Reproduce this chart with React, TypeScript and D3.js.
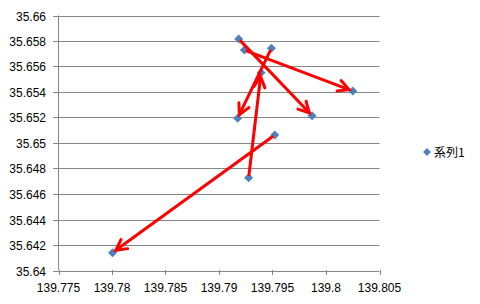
import React from "react";
import * as d3 from "d3";

const lngValues = [139.79184, 139.79237, 139.7949, 139.79393, 139.8025, 139.79174, 139.7987, 139.79521, 139.79277, 139.78005];
const latValues = [35.65816, 35.65729, 35.65743, 35.65551, 35.65408, 35.65194, 35.65214, 35.65063, 35.64728, 35.6414];
const arrowFrom = [0, 1, 2, 8, 7];
const arrowTo = [6, 4, 5, 3, 9];
const xTicks = [139.775, 139.78, 139.785, 139.79, 139.795, 139.8, 139.805];
const yTicks = [35.64, 35.642, 35.644, 35.646, 35.648, 35.65, 35.652, 35.654, 35.656, 35.658, 35.66];
const seriesName = "系列1";

export default function App() {
  const W = 480, H = 304;
  const x = d3.scaleLinear().domain([139.775, 139.805]).range([58.5, 379.5]);
  const y = d3.scaleLinear().domain([35.64, 35.66]).range([270.5, 15.5]);
  const font = "'Liberation Sans', Arial, sans-serif";
  const gridColor = "#868686";
  const blue = "#4F81BD";
  const diamond = (cx: number, cy: number, r: number) =>
    `M${cx},${cy - r}L${cx + r},${cy}L${cx},${cy + r}L${cx - r},${cy}Z`;

  const arrows = arrowFrom.map((f, i) => {
    const t = arrowTo[i];
    const x1 = x(lngValues[f]), y1 = y(latValues[f]);
    const x2 = x(lngValues[t]), y2 = y(latValues[t]);
    const dx = x2 - x1, dy = y2 - y1;
    const len = Math.hypot(dx, dy);
    const ux = dx / len, uy = dy / len;
    const sx = x1 + ux * 3, sy = y1 + uy * 3;
    const ex = x2 - ux * 4, ey = y2 - uy * 4;
    const ang = Math.atan2(uy, ux);
    const hl = 12, ha = (28 * Math.PI) / 180;
    const h1x = ex - hl * Math.cos(ang - ha), h1y = ey - hl * Math.sin(ang - ha);
    const h2x = ex - hl * Math.cos(ang + ha), h2y = ey - hl * Math.sin(ang + ha);
    return { sx, sy, ex, ey, h1x, h1y, h2x, h2y };
  });

  return (
    <svg width={W} height={H} style={{ position: "absolute", left: 0, top: 0, background: "#fff" }}>
      {yTicks.map((v) => (
        <g key={"y" + v}>
          <line x1={x(139.775)} x2={x(139.805)} y1={Math.round(y(v)) + 0.5} y2={Math.round(y(v)) + 0.5} stroke={gridColor} strokeWidth={1} />
          <line x1={53} x2={x(139.775)} y1={Math.round(y(v)) + 0.5} y2={Math.round(y(v)) + 0.5} stroke={gridColor} strokeWidth={1} />
          <text x={46} y={Math.round(y(v)) + 4.5} textAnchor="end" fontFamily={font} fontSize={12} fill="#000">
            {String(+v.toFixed(3))}
          </text>
        </g>
      ))}
      <line x1={58.5} x2={58.5} y1={y(35.66)} y2={y(35.64)} stroke={gridColor} strokeWidth={1} />
      {xTicks.map((v) => (
        <g key={"x" + v}>
          <line x1={Math.round(x(v)) + 0.5} x2={Math.round(x(v)) + 0.5} y1={270} y2={275} stroke={gridColor} strokeWidth={1} />
          <text x={x(v)} y={292} textAnchor="middle" fontFamily={font} fontSize={12} fill="#000">
            {String(+v.toFixed(3))}
          </text>
        </g>
      ))}
      {lngValues.map((v, i) => (
        <path key={"p" + i} d={diamond(x(v), y(latValues[i]), 4.5)} fill={blue} />
      ))}
      {arrows.map((a, i) => (
        <g key={"a" + i} stroke="#FF0000" strokeWidth={3} strokeLinecap="round" fill="none">
          <line x1={a.sx} y1={a.sy} x2={a.ex} y2={a.ey} />
          <polyline points={`${a.h1x},${a.h1y} ${a.ex},${a.ey} ${a.h2x},${a.h2y}`} strokeLinejoin="miter" />
        </g>
      ))}
      <path d={diamond(427, 152, 4)} fill={blue} />
      <text x={434} y={156.5} fontFamily="'Noto Sans CJK JP', sans-serif" fontSize={12} fill="#000">
        {seriesName}
      </text>
    </svg>
  );
}
